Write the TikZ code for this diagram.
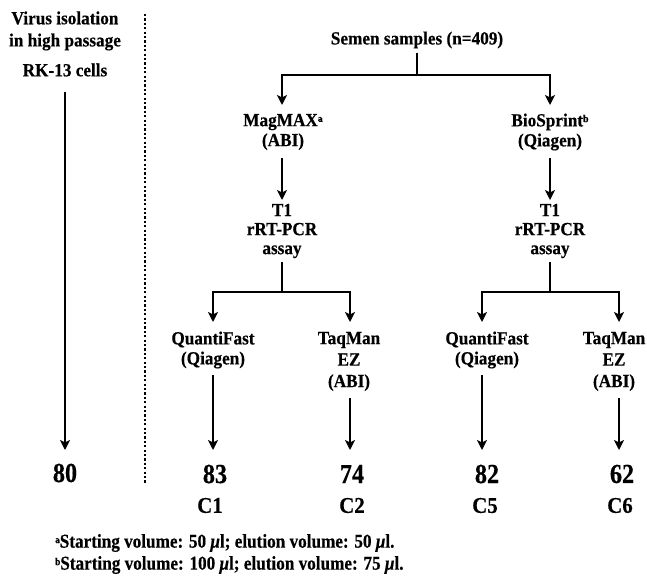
\documentclass[tikz,border=0pt]{standalone}
\usepackage{fontspec}
\setmainfont{Liberation Serif}
\newfontfamily\cond[FakeStretch=0.93,FakeBold=0.4]{Liberation Serif}
\newfontfamily\condn[FakeStretch=0.88,FakeBold=0.4]{Liberation Serif}
\newcommand{\smsup}[1]{\raisebox{0.5ex}{\fontsize{10.5}{11}\selectfont #1}}
\usetikzlibrary{arrows.meta,calc}
\begin{document}
\begin{tikzpicture}[x=1pt,y=-1pt,
  txt/.style={inner sep=0pt,align=center,font=\cond\bfseries\fontsize{18.5}{20}\selectfont},
  big/.style={inner sep=0pt,font=\condn\bfseries\fontsize{27.5}{28}\selectfont},
  cl/.style={inner sep=0pt,font=\cond\bfseries\fontsize{22.5}{24}\selectfont},
  ln/.style={line width=2.2pt,line join=miter},
  arr/.style={ln,-{Stealth[length=10pt,width=10pt,inset=2.5pt]}},
  foot/.style={inner sep=0pt,anchor=west,font=\condn\bfseries\fontsize{19.5}{20}\selectfont}]
\useasboundingbox (0,0) rectangle (647,578);
% left column
\node[txt] (v1) at (65,18) {Virus isolation};
\node[txt] (v2) at (65,42) {in high passage};
\node[txt] (v3) at (65,70) {RK-13 cells};
\node[big] (n80) at (65,473) {80};
\draw[arr] ($(v3.center)+(0,22)$) -- ($(n80.center)+(0,-23)$);
% dotted separator
\coordinate (d1) at (145,14);
\coordinate (d2) at (145,484);
\draw[line width=2.2pt,dash pattern=on 2.2pt off 2.2pt] (d1) -- (d2);
% top
\node[txt] (semen) at (417,40) {Semen samples (n=409)};
\coordinate (j1) at (417,75);
\node[txt] (mag) at (283,132) {MagMAX\smsup{a}\\(ABI)};
\node[txt] (bio) at (550,132) {BioSprint\smsup{b}\\(Qiagen)};
\draw[ln] ($(semen.center)+(0,13)$) -- (j1);
\draw[arr] (j1) -| ($(mag.center)+(-1,-27)$);
\draw[arr] (j1) -| ($(bio.center)+(0,-27)$);
% T1 blocks
\node[txt,font=\cond\bfseries\fontsize{18.5}{19}\selectfont] (t1L) at (282,231) {T1\\rRT-PCR\\assay};
\node[txt,font=\cond\bfseries\fontsize{18.5}{19}\selectfont] (t1R) at (550,231) {T1\\rRT-PCR\\assay};
\draw[arr] ($(mag.center)+(-1,26)$) -- ($(t1L.center)+(0,-31)$);
\draw[arr] ($(bio.center)+(0,26)$) -- ($(t1R.center)+(0,-31)$);
\coordinate (j2) at (282,292);
\coordinate (j3) at (550,292);
% second level
\node[txt] (qfL) at (213,350) {QuantiFast\\(Qiagen)};
\node[txt,font=\cond\bfseries\fontsize{18.5}{21.5}\selectfont] (tmL) at (349,361.5) {TaqMan\\EZ\\(ABI)};
\node[txt] (qfR) at (487,350) {QuantiFast\\(Qiagen)};
\node[txt,font=\cond\bfseries\fontsize{18.5}{21.5}\selectfont] (tmR) at (614,361.5) {TaqMan\\EZ\\(ABI)};
\draw[ln] ($(t1L.center)+(0,31)$) -- (j2);
\draw[ln] ($(t1R.center)+(0,31)$) -- (j3);
\draw[arr] (j2) -| ($(qfL.center)+(0,-28)$);
\draw[arr] (j2) -| ($(tmL.center)+(1,-39.5)$);
\draw[arr] (j3) -| ($(qfR.center)+(-5,-28)$);
\draw[arr] (j3) -| ($(tmR.center)+(5,-39.5)$);
% numbers
\node[big] (n83) at (215,474) {83};
\node[big] (n74) at (352,474) {74};
\node[big] (n82) at (487,474) {82};
\node[big] (n62) at (622,474) {62};
\draw[arr] ($(qfL.center)+(0,25)$) -- ($(qfL.center |- n83.center)+(0,-24)$);
\draw[arr] ($(tmL.center)+(1,36.5)$) -- ($(tmL.center |- n74.center)+(1,-24)$);
\draw[arr] ($(qfR.center)+(-5,25)$) -- ($(qfR.center |- n82.center)+(-5,-24)$);
\draw[arr] ($(tmR.center)+(5,36.5)$) -- ($(tmR.center |- n62.center)+(5,-24)$);
\node[cl] (c1) at (210,505.5) {C1};
\node[cl] (c2) at (352,505.5) {C2};
\node[cl] (c5) at (485,505.5) {C5};
\node[cl] (c6) at (620,505.5) {C6};
% footnotes
\node[foot] (f1) at (55,543) {\smsup{a}Starting volume: 50 \textit{μ}l; elution volume: 50 \textit{μ}l.};
\node[foot] (f2) at (55,565) {\smsup{b}Starting volume: 100 \textit{μ}l; elution volume: 75 \textit{μ}l.};
\end{tikzpicture}
\end{document}
